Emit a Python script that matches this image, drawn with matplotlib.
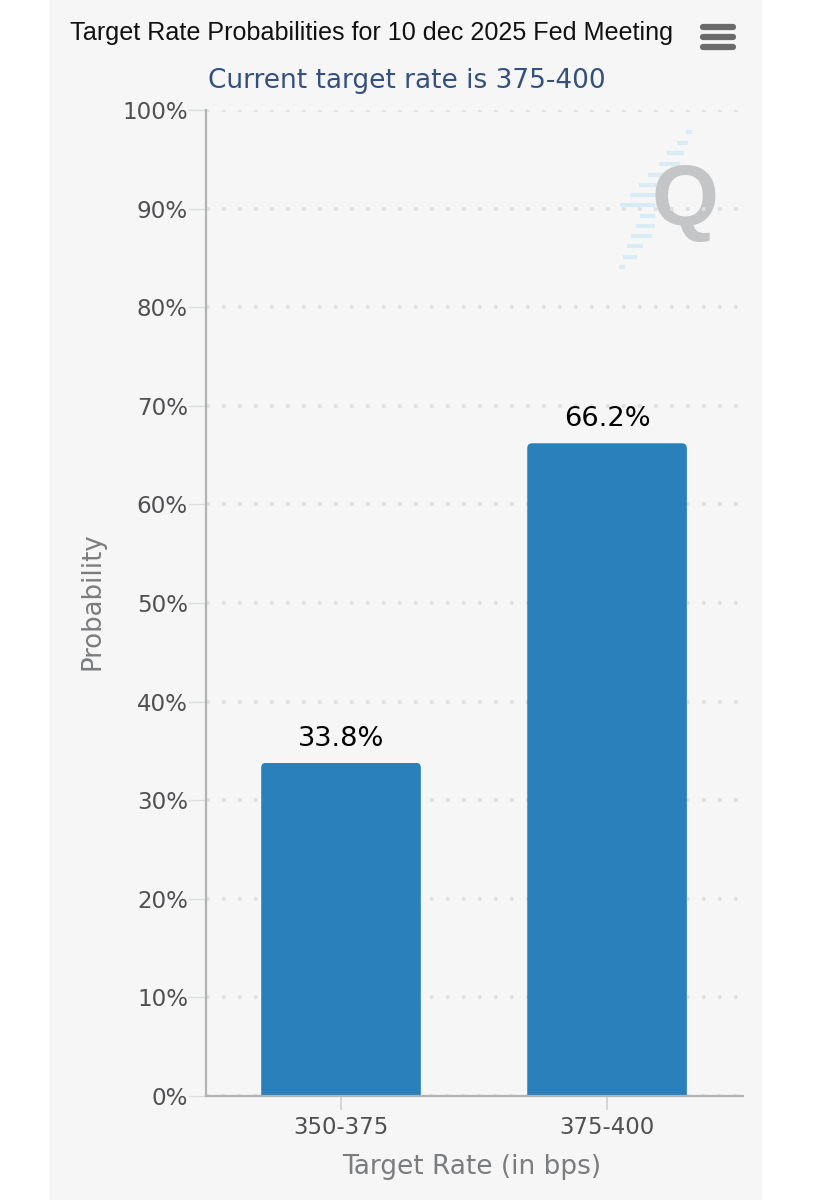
import matplotlib
matplotlib.use("Agg")
import matplotlib.pyplot as plt
from matplotlib.patches import Rectangle, FancyBboxPatch
from matplotlib.ticker import FuncFormatter

categories = ["350-375", "375-400"]
probabilities = [33.8, 66.2]
bar_labels = ["33.8%", "66.2%"]
y_ticks = list(range(0, 101, 10))

W, H = 818, 1200
fig = plt.figure(figsize=(W / 100, H / 100), dpi=100, facecolor="white")

def fx(p): return p / W
def fy(p): return 1 - p / H

# panel
fig.patches.append(Rectangle((fx(49), 0), 713 / W, 1, transform=fig.transFigure,
                             facecolor="#f6f6f7", edgecolor="none", zorder=-5))

ax = fig.add_axes([fx(206), fy(1096), (743 - 206) / W, (1096 - 110) / H], zorder=2)
ax.patch.set_alpha(0)
ax.set_xlim(-0.5075, 1.511)
ax.set_ylim(0, 100)

# watermark logo
lax = fig.add_axes([0, 0, 1, 1], zorder=1)
lax.set_xlim(0, W); lax.set_ylim(H, 0); lax.axis("off"); lax.patch.set_alpha(0)
stripes = [(686, 692, 132), (677, 688, 143), (667, 684, 153), (659, 680, 164), (648, 672, 175),
           (639, 665, 185), (630, 660, 195), (620, 655, 205), (640, 655, 216), (636, 655, 226),
           (631, 652, 236), (627, 643, 246), (623, 637, 257), (619, 625, 267)]
for x0, x1, y in stripes:
    lax.plot([x0, x1], [y, y], color="#d9ecf6", lw=3, solid_capstyle="butt")
lax.text(685, 203, "Q", fontsize=62, fontweight="bold", family="Liberation Sans",
         color="#c4c5c6", ha="center", va="center")

# grid
ax.set_axisbelow(True)
ax.yaxis.grid(True, color="#dedfdf", lw=2.6, linestyle=(0, (1, 3.43)))
ax.xaxis.grid(False)

# bars with rounded tops
bars = ax.bar(range(len(categories)), probabilities, width=0.6, color="#2a80bb",
              edgecolor="none", zorder=3)
fig.canvas.draw()
for b in bars:
    (x0, y0), (x1, y1) = ax.transData.transform([(b.get_x(), 0), (b.get_x() + b.get_width(), b.get_height())])
    r = 5
    clip = FancyBboxPatch((x0 + r, y0 - 30), x1 - x0 - 2 * r, y1 - y0 + 30 - r,
                          boxstyle=f"round,pad={r},rounding_size={r}", transform=None)
    b.set_clip_path(clip)

for i, (v, s) in enumerate(zip(probabilities, bar_labels)):
    ax.annotate(s, (i, v), xytext=(0, 11), textcoords="offset pixels", ha="center", va="bottom",
                fontsize=19.6, color="black", family="DejaVu Sans", zorder=5)

# axes
for side in ("top", "right"):
    ax.spines[side].set_visible(False)
ax.spines["left"].set_color("#b2b3b5"); ax.spines["left"].set_linewidth(1.6)
ax.spines["bottom"].set_color("#b2b3b5"); ax.spines["bottom"].set_linewidth(1.6)
ax.spines["bottom"].set_zorder(6)

ax.set_yticks(y_ticks)
ax.yaxis.set_major_formatter(FuncFormatter(lambda v, _: f"{v:.0f}%"))
ax.set_xticks(range(len(categories)), categories)
ax.tick_params(axis="x", length=10, width=1.2, color="#cfd0d1", labelsize=16.4,
               labelcolor="#505052", pad=4.5)
ax.tick_params(axis="y", length=13, width=1, color="#dcdddd", labelsize=16.6,
               labelcolor="#505052", pad=0)
for t in ax.get_xticklabels() + ax.get_yticklabels():
    t.set_family("DejaVu Sans")
for t in ax.get_yticklabels():
    t.set_verticalalignment("center_baseline")

fig.text(fx(93), fy(601), "Probability", rotation=90, ha="center", va="center",
         fontsize=18.7, color="#7b7c7e", family="DejaVu Sans")
fig.text(fx(472), fy(1167), "Target Rate (in bps)", ha="center", va="center",
         fontsize=19, color="#7b7c7e", family="DejaVu Sans")
fig.text(fx(371.5), fy(33), "Target Rate Probabilities for 10 dec 2025 Fed Meeting", ha="center", va="center",
         fontsize=18.1, color="#111111", family="Liberation Sans")
fig.text(fx(407), fy(81), "Current target rate is 375-400", ha="center", va="center",
         fontsize=19, color="#34507e", family="DejaVu Sans")

# menu icon
for yy in (26.5, 36.5, 46.5):
    lax.plot([703, 732.5], [yy, yy], color="#6b6b6b", lw=4.5, solid_capstyle="round")

fig.savefig("out.png", dpi=100, facecolor="white")
